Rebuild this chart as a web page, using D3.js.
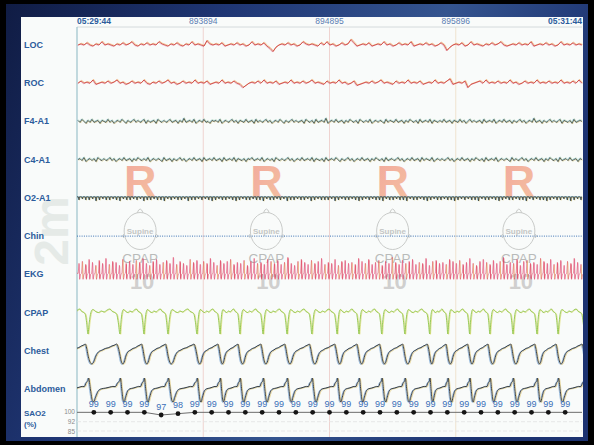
<!DOCTYPE html>
<html>
<head>
<meta charset="utf-8">
<script src="https://cdn.jsdelivr.net/npm/d3@7"></script>
<style>
  html, body { margin: 0; padding: 0; background: #000; overflow: hidden; }
  svg { display: block; }
  text { font-family: "Liberation Sans", Arial, sans-serif; }
</style>
</head>
<body>
<svg id="chart" width="594" height="445"></svg>
<script>
// ---- Recording data (2-minute window, 4 x 30 s epochs) ----
const timeLabels = ["05:29:44", "893894", "894895", "895896", "05:31:44"];
const labelTimes = [0, 30, 60, 90, 120];          // seconds into the window
const epochBounds = [30, 60, 90];
const epochCentres = [15, 45, 75, 105];
const epochStage = ["R", "R", "R", "R"];
const epochPosition = ["Supine", "Supine", "Supine", "Supine"];
const epochTherapy = ["CPAP", "CPAP", "CPAP", "CPAP"];
const epochPressure = ["10", "10", "10", "10"];
const channelNames = ["LOC", "ROC", "F4-A1", "C4-A1", "O2-A1", "Chin", "EKG", "CPAP", "Chest", "Abdomen"];

// Eye channels (uV-ish units, sampled evenly across the window)
const locSignal = [0,1,0,2,0,-1,1,0,3,0,1,0,-1,
  1,0,2,0,1,3,0,-1,1,0,2,0,1,
  0,3,1,0,-1,1,0,2,0,-1,1,0,3,
  0,1,0,-1,4,1,0,1,0,2,-1,0,1,
  0,2,0,1,-1,0,3,0,1,0,2,-1,-3,
  -6,-2,0,1,0,2,0,1,-1,0,3,1,0,
  1,0,-1,2,0,3,0,1,-1,0,2,0,1,
  5,2,-1,0,1,0,2,-1,0,1,0,3,0,
  1,-1,0,2,0,1,0,3,-1,0,1,0,2,
  0,1,-1,0,2,0,-5,-2,0,1,0,2,-1,
  0,3,0,1,0,-1,1,0,2,0,1,3,0,
  -1,0,1,0,2,0,1,0,3,-1,0,1,0,
  2,0,1,-1,0,3,0,1,0,2,0,1,0];
const rocSignal = [0,2,0,1,0,3,-1,0,1,0,2,0,1,
  3,0,1,-1,0,2,0,1,0,3,0,-1,1,
  0,2,0,1,3,0,1,-1,0,2,0,1,0,
  3,0,1,0,2,-1,0,1,0,3,0,1,0,
  2,0,-1,-4,-2,0,1,0,2,0,3,0,1,
  0,2,-1,0,1,0,3,0,1,0,2,0,1,
  3,0,1,0,-1,2,0,1,0,3,0,1,-1,
  0,2,-2,-1,0,1,0,2,0,1,3,0,1,
  0,-1,2,0,1,0,3,0,1,0,2,-1,0,
  1,0,3,0,1,0,2,4,-1,0,1,0,2,
  -4,-1,0,1,2,0,3,0,1,0,2,0,1,
  0,3,0,1,-1,0,2,0,1,0,3,0,1,
  0,2,0,1,0,3,0,1,0,2,0,3,0];

// EEG channels
const f4Signal = [1,-1,2,0,-2,1,-1,2,-1,0,1,-2,1,0,-1,2,-1,1,-2,0,1,-1,2,
  0,-2,1,-1,0,2,-1,1,-1,0,2,-2,1,-1,0,1,-2,2,0,-1,1,-1,0,
  2,-1,0,1,-2,1,-1,3,-1,0,1,-1,2,-2,0,1,-1,2,-1,0,-2,1,0,
  1,-1,2,-2,0,1,-1,0,2,-1,1,-2,1,0,-1,2,-1,0,1,-2,2,-1,1,
  -1,0,2,-1,1,-2,0,1,-1,2,0,-2,1,-1,0,2,-1,1,-1,0,1,-2,2,
  0,-1,1,-2,2,-1,0,1,-1,3,-2,0,1,-1,2,-1,0,1,-2,1,-1,2,0,
  -1,1,-2,2,0,-1,1,-1,2,-2,0,1,-1,1,0,-2,2,-1,1,0,-1,2,-1,
  0,1,-2,1,-1,2,0,-1,1,-2,2,-1,0,1,-1,2,-2,1,0,-1,1,-1,2,
  -1,0,1,-2,1,0,-1,2,-1,1,-2,0,2,-1,1,-1,0,1,-2,2,-1,0,1,
  -1,2,-2,0,1,-1,2,-1,0,1,-2,1,-1,0,2,-1,1,-2,0,1,-1,3,-1,
  0,1,-2,1,-1,0,2,-1,1,-1,0,2,-2,1,0,-1,1,-2,2,-1,0,1,0];
const c4Signal = [0,1,-1,2,-2,0,1,-1,1,-2,2,0,-1,1,-1,0,2,-1,1,-2,0,1,-1,
  2,-1,0,1,-2,1,-1,2,0,-1,1,-1,2,-2,0,1,-1,1,0,-2,2,-1,0,
  1,-2,1,-1,0,2,-1,1,-2,0,1,-1,2,-1,0,1,-2,2,-1,0,1,-1,2,
  -1,0,1,-2,2,-1,0,1,-1,2,-2,1,0,-1,1,-2,1,0,2,-1,0,1,-1,
  2,-2,0,1,-1,1,-2,2,0,-1,1,-1,0,2,-1,1,-2,0,1,-1,2,-1,0,
  1,-1,2,-2,1,0,-1,1,-2,2,-1,0,1,-1,2,0,-2,1,-1,0,2,-1,1,
  -2,0,1,-1,2,-1,0,1,-2,1,-1,2,0,-1,1,-2,2,-1,0,1,-1,0,2,
  -1,1,-2,0,1,-1,2,-1,0,1,-2,2,-1,1,0,-1,2,-2,0,1,-1,1,-1,
  0,2,-1,1,-2,0,1,-1,2,-1,0,1,-2,1,-1,2,0,-1,1,-2,2,-1,0,
  1,-1,2,-2,0,1,-1,1,0,-2,2,-1,1,-1,0,2,-1,1,-2,0,1,-1,2,
  -1,0,1,-2,1,-1,2,0,-1,1,-2,2,-1,0,1,-1,2,-1,0,1,-2,1,0];
// Occipital alpha: depth of each wave trough
const o2Waves = [3,2,3,3,2,4,3,2,3,3,2,3,4,2,3,3,2,3,2,4,3,3,2,3,3,4,2,3,2,3,
  3,2,4,3,3,2,3,2,3,4,3,2,3,3,2,3,4,3,2,3,3,2,3,3,4,2,3,3,2,3,
  2,4,3,3,2,3,3,2,4,3,2,3,3,3,2,4,3,2,3,3,2,3,4,3,2,3,2,3,3,4,
  2,3,3,2,3,3,4,2,3,3,2,3,4,3,2,3,3,2,3,3,4,3,2,3,2,3,3,4,2,3,
  3,2,3,4,3,2,3,3,2,3,3,4,2,3,2,3,3,4,3,2,3,3,2,3,4,3,2,3];

// EKG: R-wave height of each beat
const ekgBeats = [10,12,9,14,11,8,13,10,15,9,12,11,8,14,10,12,9,13,11,15,10,8,12,14,9,
  11,13,10,16,9,12,10,8,14,11,13,9,12,10,15,11,8,13,10,12,14,9,11,10,13,
  8,12,15,10,11,9,14,12,10,13,9,11,16,10,8,12,14,11,9,13,10,12,15,9,11,
  10,14,8,12,13,10,11,9,15,12,10,14,9,11,13,8,12,10,16,11,9,13,10,12,14,
  9,11,10,15,8,12,13,10,11,9,14,12,10,13,9,11,15,10,8,12,14,11,9,13,10,
  12,16,9,11,10,14,8,12,13,10,11,9,15,12,10,14,9,11,13,8,12,10,15,11,9];

// Breathing: time (s) of each CPAP flow trough
const breathDips = [-3.6, 2.6, 10.2, 15.9, 21.6, 28.5, 34.0, 38.7, 44.2, 49.9, 55.8, 61.8,
  67.0, 72.4, 77.9, 83.8, 88.1, 93.3, 98.1, 103.6, 109.3, 114.3, 120.6];
// One breath of each effort channel: [phase, depth] with depth 0 = top, 1 = bottom
const cpapBreath = [[0,1],[0.04,0.55],[0.09,0.15],[0.15,0.02],[0.24,0.1],[0.33,0.14],[0.42,0.08],
  [0.5,0.12],[0.6,0.04],[0.68,0],[0.76,0.1],[0.84,0.14],[0.9,0.22],[0.95,0.55]];
const chestBreath = [[0,0.55],[0.05,0.85],[0.12,1],[0.18,0.9],[0.25,0.6],[0.33,0.4],[0.45,0.3],
  [0.55,0.22],[0.65,0.18],[0.75,0.1],[0.84,0.05],[0.9,0],[0.95,0.2]];
const abdomenBreath = [[0,0.1],[0.02,0],[0.08,0.5],[0.14,0.95],[0.18,1],[0.24,0.8],[0.32,0.55],
  [0.42,0.45],[0.55,0.42],[0.68,0.38],[0.78,0.35],[0.86,0.36],[0.93,0.2]];

// Oxygen saturation, one reading every 4 s starting at 4 s
const sao2Values = [99,99,99,99,97,98,99,99,99,99,99,99,99,99,99,99,99,99,99,99,99,99,99,99,99,99,99,99,99];
const sao2Ticks = [100, 92, 85];

// ---- Layout ----
const svg = d3.select("#chart");
const W = 594, H = 445;
const plotLeft = 77, plotRight = 582, plotTop = 27, plotBottom = 437;
const blue = "#2c5c9c";

const defs = svg.append("defs");
const bg = defs.append("linearGradient").attr("id", "frameGrad").attr("x1", 0).attr("y1", 0).attr("x2", 1).attr("y2", 0.3);
bg.append("stop").attr("offset", "0%").attr("stop-color", "#101c44");
bg.append("stop").attr("offset", "35%").attr("stop-color", "#1f3674");
bg.append("stop").attr("offset", "70%").attr("stop-color", "#34548f");
bg.append("stop").attr("offset", "100%").attr("stop-color", "#1c3270");
const rGrad = defs.append("linearGradient").attr("id", "stageGrad").attr("x1", 0).attr("y1", 0).attr("x2", 1).attr("y2", 1);
rGrad.append("stop").attr("offset", "0%").attr("stop-color", "#f09a8c");
rGrad.append("stop").attr("offset", "100%").attr("stop-color", "#f5b892");
defs.append("clipPath").attr("id", "plotClip").append("rect")
  .attr("x", plotLeft).attr("y", plotTop).attr("width", plotRight - plotLeft + 1).attr("height", plotBottom - plotTop);

svg.append("rect").attr("width", W).attr("height", H).attr("fill", "#000");
svg.append("rect").attr("x", 6).attr("y", 4).attr("width", 582).attr("height", 437).attr("fill", "url(#frameGrad)");
svg.append("rect").attr("x", 21).attr("y", 17).attr("width", 562).attr("height", 420).attr("fill", "#f9fbfa");

// Scales
const xTime = d3.scaleLinear().domain([0, 120]).range([plotLeft, plotRight]);
const rowY = d3.scalePoint().domain(channelNames).range([45, 389]);

// Faint background labels
svg.append("text")
  .attr("transform", "translate(68,231) rotate(-90)")
  .attr("text-anchor", "middle")
  .attr("font-size", 48).attr("font-weight", "bold")
  .attr("fill", "#e5eae7")
  .text("2m");

// Epoch grid lines
const gridColours = ["#efd3d0", "#efd3d0", "#efe3cf"];
svg.selectAll(".epoch").data(epochBounds).join("line")
  .attr("x1", d => xTime(d)).attr("x2", d => xTime(d))
  .attr("y1", plotTop).attr("y2", plotBottom)
  .attr("stroke", (d, i) => gridColours[i]).attr("stroke-width", 1);

// Header
svg.append("line").attr("x1", plotLeft).attr("x2", plotRight).attr("y1", plotTop).attr("y2", plotTop)
  .attr("stroke", "#d4dadc").attr("stroke-width", 1);
svg.append("line").attr("x1", plotLeft).attr("x2", plotLeft).attr("y1", plotTop).attr("y2", plotBottom)
  .attr("stroke", "#9cc3cc").attr("stroke-width", 1.2);
svg.selectAll(".hdr").data(timeLabels).join("text")
  .attr("x", (d, i) => xTime(labelTimes[i]))
  .attr("y", 24)
  .attr("text-anchor", (d, i) => i === 0 ? "start" : i === timeLabels.length - 1 ? "end" : "middle")
  .attr("font-size", 8.5)
  .attr("font-weight", (d, i) => (i === 0 || i === timeLabels.length - 1) ? "bold" : "normal")
  .attr("fill", (d, i) => (i === 0 || i === timeLabels.length - 1) ? blue : "#5b7db3")
  .text(d => d);

// Epoch annotations: sleep stage, body position, therapy
const notes = svg.append("g");
epochCentres.forEach((t, i) => {
  const cx = xTime(t);
  notes.append("text").attr("x", cx).attr("y", 197).attr("text-anchor", "middle")
    .attr("font-size", 45).attr("font-weight", "bold").attr("fill", "url(#stageGrad)").attr("opacity", 0.85)
    .text(epochStage[i]);
  const head = notes.append("g").attr("stroke", "#c9cbc9").attr("fill", "none").attr("stroke-width", 1);
  head.append("ellipse").attr("cx", cx).attr("cy", 231).attr("rx", 16).attr("ry", 18.5);
  head.append("path").attr("d", `M${cx - 3},${213} Q${cx},${205} ${cx + 3},${213}`);
  head.append("path").attr("d", `M${cx - 16},${234} l-2,2 l2,2 M${cx + 16},${234} l2,2 l-2,2`);
  notes.append("text").attr("x", cx).attr("y", 234).attr("text-anchor", "middle")
    .attr("font-size", 8).attr("font-weight", "bold").attr("fill", "#c4c6c4").text(epochPosition[i]);
  notes.append("text").attr("x", cx).attr("y", 263).attr("text-anchor", "middle")
    .attr("font-size", 13.5).attr("fill", "#b9bbba").text(epochTherapy[i]);
  notes.append("text").attr("x", cx + 2).attr("y", 289).attr("text-anchor", "middle")
    .attr("font-size", 22).attr("font-weight", "bold").attr("fill", "#a8a4a4").attr("opacity", 0.5)
    .text(epochPressure[i]);
});

// Channel labels
svg.selectAll(".chan").data(channelNames).join("text")
  .attr("x", 24).attr("y", d => rowY(d) + 3)
  .attr("font-size", 9).attr("font-weight", "bold").attr("fill", blue)
  .text(d => d);
svg.append("text").attr("x", 24).attr("y", 416).attr("font-size", 8).attr("font-weight", "bold").attr("fill", blue).text("SAO2");
svg.append("text").attr("x", 24).attr("y", 427).attr("font-size", 8).attr("font-weight", "bold").attr("fill", blue).text("(%)");

const traces = svg.append("g").attr("clip-path", "url(#plotClip)");

// Draws a sampled signal with slight colour fringes around the main stroke
function drawSignal(values, name, gain, main, fringes, width) {
  const xs = d3.scaleLinear().domain([0, values.length - 1]).range([plotLeft + 1, plotRight]);
  const ys = d3.scaleLinear().domain([-1, 1]).range([rowY(name) + gain, rowY(name) - gain]);
  const line = d3.line().x((d, i) => xs(i)).y(d => ys(d));
  fringes.forEach((f) => {
    traces.append("path").attr("d", line(values)).attr("fill", "none")
      .attr("stroke", f.c).attr("stroke-width", width).attr("opacity", f.o)
      .attr("transform", `translate(${f.dx},${f.dy})`);
  });
  traces.append("path").attr("d", line(values)).attr("fill", "none")
    .attr("stroke", main).attr("stroke-width", width);
}

const eogFringe = [{ c: "#f0a040", o: 0.7, dx: 0.6, dy: -0.6 }, { c: "#e06a90", o: 0.5, dx: -0.6, dy: 0.5 }];
const eegFringe = [{ c: "#3f9fc8", o: 0.55, dx: -0.6, dy: -0.5 }, { c: "#c9b43e", o: 0.55, dx: 0.6, dy: 0.6 }, { c: "#5aa860", o: 0.4, dx: 0.3, dy: -0.9 }];
drawSignal(locSignal, "LOC", 1.1, "#c8302e", eogFringe, 0.75);
drawSignal(rocSignal, "ROC", 1.1, "#c8302e", eogFringe, 0.75);
drawSignal(f4Signal, "F4-A1", 1.0, "#2b2b2b", eegFringe, 0.65);
drawSignal(c4Signal, "C4-A1", 1.0, "#2b2b2b", eegFringe, 0.65);

// O2-A1: baseline with a downward stroke for every alpha wave
{
  const base = rowY("O2-A1") - 1;
  const xs = d3.scaleLinear().domain([0, o2Waves.length - 1]).range([plotLeft + 2, plotRight - 1]);
  let d = `M${plotLeft},${base}`;
  o2Waves.forEach((v, i) => {
    const x = xs(i);
    d += `L${x - 0.6},${base}L${x},${base + v}L${x + 0.6},${base}`;
  });
  d += `L${plotRight},${base}`;
  traces.append("path").attr("d", d).attr("fill", "none").attr("stroke", "#3f9fc8").attr("stroke-width", 0.7)
    .attr("opacity", 0.6).attr("transform", "translate(-0.6,-0.4)");
  traces.append("path").attr("d", d).attr("fill", "none").attr("stroke", "#c9b43e").attr("stroke-width", 0.7)
    .attr("opacity", 0.5).attr("transform", "translate(0.6,0.4)");
  traces.append("path").attr("d", d).attr("fill", "none").attr("stroke", "#2b2b2b").attr("stroke-width", 0.7);
}

// Chin EMG: flat, dotted
traces.append("line").attr("x1", plotLeft).attr("x2", plotRight)
  .attr("y1", rowY("Chin")).attr("y2", rowY("Chin"))
  .attr("stroke", "#3c72b4").attr("stroke-width", 1).attr("stroke-dasharray", "1,1.3");

// EKG: one complex per beat
{
  const base = rowY("EKG") - 1;
  const xs = d3.scaleLinear().domain([0, ekgBeats.length - 1]).range([plotLeft + 2, plotRight - 1]);
  let d = `M${plotLeft},${base}`;
  ekgBeats.forEach((h, i) => {
    const x = xs(i);
    d += `L${x - 0.8},${base}L${x},${base - h}L${x + 0.7},${base + 6}L${x + 1.5},${base + 1}`;
  });
  traces.append("path").attr("d", d).attr("fill", "none").attr("stroke", "#e03a58").attr("stroke-width", 0.6).attr("opacity", 0.9);
  const spikeColours = ["#e878a8", "#e8c56a", "#dd3550", "#e06090"];
  traces.selectAll(".beat").data(ekgBeats).join("line")
    .attr("x1", (h, i) => xs(i) + 0.4).attr("x2", (h, i) => xs(i) + 0.4)
    .attr("y1", base + 5).attr("y2", h => base - h + 1)
    .attr("stroke", (h, i) => spikeColours[i % spikeColours.length])
    .attr("stroke-width", 0.8).attr("opacity", 0.7);
}

// Respiratory effort channels, breath by breath
function breathPath(shape) {
  const pts = [];
  for (let i = 0; i < breathDips.length - 1; i++) {
    const t0 = breathDips[i], t1 = breathDips[i + 1];
    shape.forEach(([u, v]) => pts.push([t0 + u * (t1 - t0), v]));
  }
  pts.push([breathDips[breathDips.length - 1], shape[0][1]]);
  return pts;
}
function drawBreathing(shape, top, bottom, main, fringes, width) {
  const ys = d3.scaleLinear().domain([0, 1]).range([top, bottom]);
  const line = d3.line().x(d => xTime(d[0])).y(d => ys(d[1])).curve(d3.curveMonotoneX);
  const d = line(breathPath(shape));
  fringes.forEach(f => {
    traces.append("path").attr("d", d).attr("fill", "none").attr("stroke", f.c)
      .attr("stroke-width", width).attr("opacity", f.o).attr("transform", `translate(${f.dx},${f.dy})`);
  });
  traces.append("path").attr("d", d).attr("fill", "none").attr("stroke", main).attr("stroke-width", width);
}
drawBreathing(cpapBreath, 309, 334, "#8cc447", [{ c: "#d8d860", o: 0.7, dx: 0.8, dy: 0.3 }], 0.9);
drawBreathing(chestBreath, 344, 364, "#2e3034", [{ c: "#5a8fc8", o: 0.7, dx: -0.9, dy: 0.4 }, { c: "#d8b850", o: 0.6, dx: 0.9, dy: 0.5 }], 0.9);
drawBreathing(abdomenBreath, 378, 402, "#2e3034", [{ c: "#5a8fc8", o: 0.7, dx: -0.9, dy: 0.4 }, { c: "#d8b850", o: 0.6, dx: 0.9, dy: 0.5 }], 0.9);

// SaO2 panel
const ySat = d3.scaleLinear().domain([85, 100]).range([431, 411]);
svg.selectAll(".satGrid").data(sao2Ticks.slice(1)).join("line")
  .attr("x1", plotLeft).attr("x2", plotRight).attr("y1", d => ySat(d)).attr("y2", d => ySat(d))
  .attr("stroke", "#e3e3e3").attr("stroke-width", 0.8).attr("stroke-dasharray", "4,2");
svg.selectAll(".satTick").data(sao2Ticks).join("text")
  .attr("x", 75).attr("y", d => ySat(d) + 2.5).attr("text-anchor", "end")
  .attr("font-size", 6.5).attr("fill", "#8a8a8a").text(d => d);

const satPoints = sao2Values.map((v, i) => [(i + 1) * 4, v]);
const satLine = [[0, sao2Values[0]], ...satPoints, [120, sao2Values[sao2Values.length - 1]]];
svg.append("path")
  .attr("d", d3.line().x(d => xTime(d[0])).y(d => ySat(d[1]))(satLine))
  .attr("fill", "none").attr("stroke", "#6d6d6d").attr("stroke-width", 1);
svg.selectAll(".satDot").data(satPoints).join("circle")
  .attr("cx", d => xTime(d[0])).attr("cy", d => ySat(d[1])).attr("r", 2.4).attr("fill", "#151515");
svg.selectAll(".satLabel").data(satPoints).join("text")
  .attr("x", d => xTime(d[0])).attr("y", d => ySat(d[1]) - 5.5)
  .attr("text-anchor", "middle").attr("font-size", 9).attr("fill", "#3a6fb8")
  .text(d => d[1]);
</script>
</body>
</html>
